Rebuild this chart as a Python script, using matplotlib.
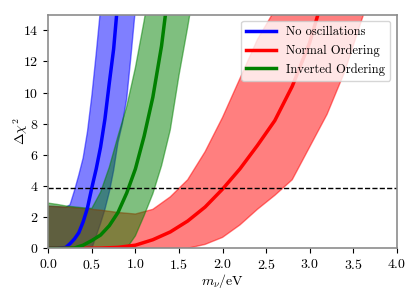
import numpy as np
import matplotlib
matplotlib.use('Agg')
import matplotlib.pyplot as plt

plt.rcParams['font.family'] = 'serif'
plt.rcParams['font.serif'] = ['cmr10']
plt.rcParams['mathtext.fontset'] = 'cm'
plt.rcParams['axes.formatter.use_mathtext'] = True
plt.rcParams['font.size'] = 10

# No oscillations (blue)
m_no = [0.0, 0.1, 0.2, 0.25, 0.3, 0.35, 0.4, 0.45, 0.5, 0.55, 0.6, 0.65,
        0.7, 0.75, 0.8, 0.85, 0.9, 0.95, 1.0]
chi_no = [0.0, 0.0, 0.05, 0.3, 0.6, 1.0, 1.7, 2.6, 3.9, 5.1, 6.5, 8.3,
          10.6, 12.8, 16.0, 19.0, 22.0, 25.0, 28.0]
chi_no_hi = [2.7, 2.68, 2.62, 2.8, 3.7, 4.7, 5.8, 7.5, 9.8, 12.5, 15.4, 18.5,
             22.0, 25.0, 28.0, 31.0, 34.0, 37.0, 40.0]
chi_no_lo = [0.0, 0.0, 0.0, 0.0, 0.0, 0.0, 0.0, 0.0, 0.0, 0.8, 1.6, 2.5,
             3.6, 5.0, 6.8, 8.0, 9.6, 12.4, 15.4]

# Normal ordering (red)
m_nh = [0.0, 0.2, 0.4, 0.6, 0.8, 1.0, 1.2, 1.4, 1.6, 1.8, 2.0, 2.2, 2.4,
        2.6, 2.8, 3.0, 3.2, 3.4, 3.6, 3.8]
chi_nh = [0.0, 0.0, 0.0, 0.01, 0.06, 0.2, 0.55, 1.05, 1.75, 2.65, 3.8, 5.1,
          6.6, 8.2, 10.4, 13.2, 17.0, 21.0, 25.0, 29.0]
chi_nh_hi = [2.7, 2.65, 2.55, 2.45, 2.3, 2.2, 2.5, 3.3, 4.4, 6.2, 8.4, 10.9,
             13.4, 15.3, 18.0, 21.0, 24.0, 27.0, 30.0, 33.0]
chi_nh_lo = [0.0, 0.0, 0.0, 0.0, 0.0, 0.0, 0.0, 0.0, 0.0, 0.25, 0.7, 1.5,
             2.5, 3.4, 4.4, 6.5, 8.6, 11.3, 14.7, 18.0]

# Inverted ordering (green)
m_ih = [0.0, 0.1, 0.2, 0.3, 0.4, 0.5, 0.6, 0.7, 0.8, 0.9, 1.0, 1.1, 1.2,
        1.3, 1.4, 1.5, 1.6, 1.7]
chi_ih = [0.0, 0.0, 0.0, 0.02, 0.2, 0.5, 0.85, 1.45, 2.3, 3.55, 5.1, 7.2,
          9.7, 13.0, 17.5, 22.0, 26.0, 30.0]
chi_ih_hi = [2.9, 2.82, 2.72, 2.66, 2.6, 2.56, 3.6, 5.2, 7.2, 9.1, 11.6, 14.6,
             18.0, 21.0, 24.0, 27.0, 30.0, 33.0]
chi_ih_lo = [0.0, 0.0, 0.0, 0.0, 0.0, 0.0, 0.0, 0.0, 0.0, 0.0, 0.8, 2.1,
             3.5, 5.3, 7.6, 11.1, 14.2, 17.5]

chi2_95 = 3.84

fig = plt.figure(figsize=(4.15, 2.97), dpi=100)
ax = fig.add_axes([0.1164, 0.164, 0.8396, 0.7865])

ax.fill_between(m_no, chi_no_lo, chi_no_hi, color='blue', alpha=0.5)
ax.fill_between(m_nh, chi_nh_lo, chi_nh_hi, color='red', alpha=0.5)
ax.fill_between(m_ih, chi_ih_lo, chi_ih_hi, color='green', alpha=0.5)

ax.plot(m_no, chi_no, color='blue', linewidth=2.5, label='No oscillations')
ax.plot(m_nh, chi_nh, color='red', linewidth=2.5, label='Normal Ordering')
ax.plot(m_ih, chi_ih, color='green', linewidth=2.5, label='Inverted Ordering')

ax.axhline(chi2_95, color='black', linestyle='--', linewidth=1)

ax.set_xlim(0, 4)
ax.set_ylim(0, 15)
ax.set_xticks(np.arange(0, 4.01, 0.5))
ax.set_yticks(range(0, 15, 2))
ax.set_xlabel(r'$m_\nu/\mathrm{eV}$', labelpad=0)
ax.set_ylabel(r'$\Delta\chi^2$', labelpad=-5)
for sp in ax.spines.values():
    sp.set_color('0.55')
    sp.set_linewidth(1.2)
ax.legend(loc='upper right', fontsize=9, handlelength=2.4)

fig.savefig('out.png', dpi=100)
